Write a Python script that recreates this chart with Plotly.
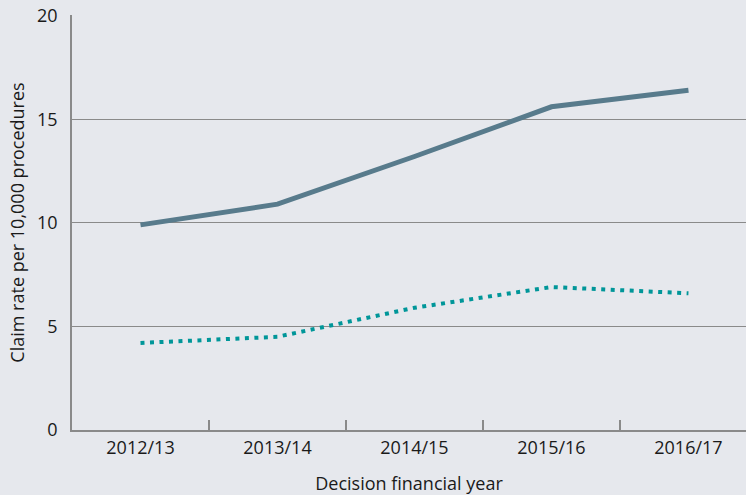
import plotly.graph_objects as go

years = ["2012/13", "2013/14", "2014/15", "2015/16", "2016/17"]
solid_rate = [9.9, 10.9, 13.2, 15.6, 16.4]
dotted_rate = [4.2, 4.5, 5.9, 6.9, 6.6]

bg = "#e6e8ed"
axis_grey = "#8a8a8a"

fig = go.Figure()

fig.add_trace(go.Scatter(
    x=years, y=solid_rate, mode="lines",
    line=dict(color="#587b8c", width=5),
    showlegend=False, hoverinfo="x+y"))

fig.add_trace(go.Scatter(
    x=years, y=dotted_rate, mode="lines",
    line=dict(color="#009699", width=4, dash="4px,5.5px"),
    showlegend=False, hoverinfo="x+y"))

fig.update_layout(
    width=746, height=495,
    margin=dict(l=72, r=0, t=15, b=65),
    paper_bgcolor=bg, plot_bgcolor=bg,
    font=dict(family="'Open Sans', Lato, sans-serif", size=18, color="#1a1a1a"),
)

fig.update_xaxes(
    type="category", range=[-0.5, 4.42], automargin=False,
    showgrid=False, showline=True, linecolor=axis_grey, linewidth=2,
    ticks="inside", tickson="boundaries", ticklen=10, tickcolor=axis_grey, tickwidth=1.5,
    tickfont=dict(size=18),
    title=dict(text="Decision financial year", standoff=22, font=dict(size=18)),
)

fig.update_yaxes(
    range=[0, 20.03], tickvals=[0, 5, 10, 15, 20], automargin=True,
    showgrid=True, gridcolor=axis_grey, gridwidth=1,
    zeroline=False, showline=True, linecolor=axis_grey, linewidth=1.5,
    ticks="", ticklabelstandoff=9, ticklabeloverflow="allow",
    tickfont=dict(size=18),
    title=dict(text="Claim rate per 10,000 procedures", standoff=8, font=dict(size=18)),
)

# drop the default 8px body margin so the chart sits flush in the window
fig.write_html("out.html", config={"displayModeBar": False},
               post_script="document.body.style.margin='0';")
